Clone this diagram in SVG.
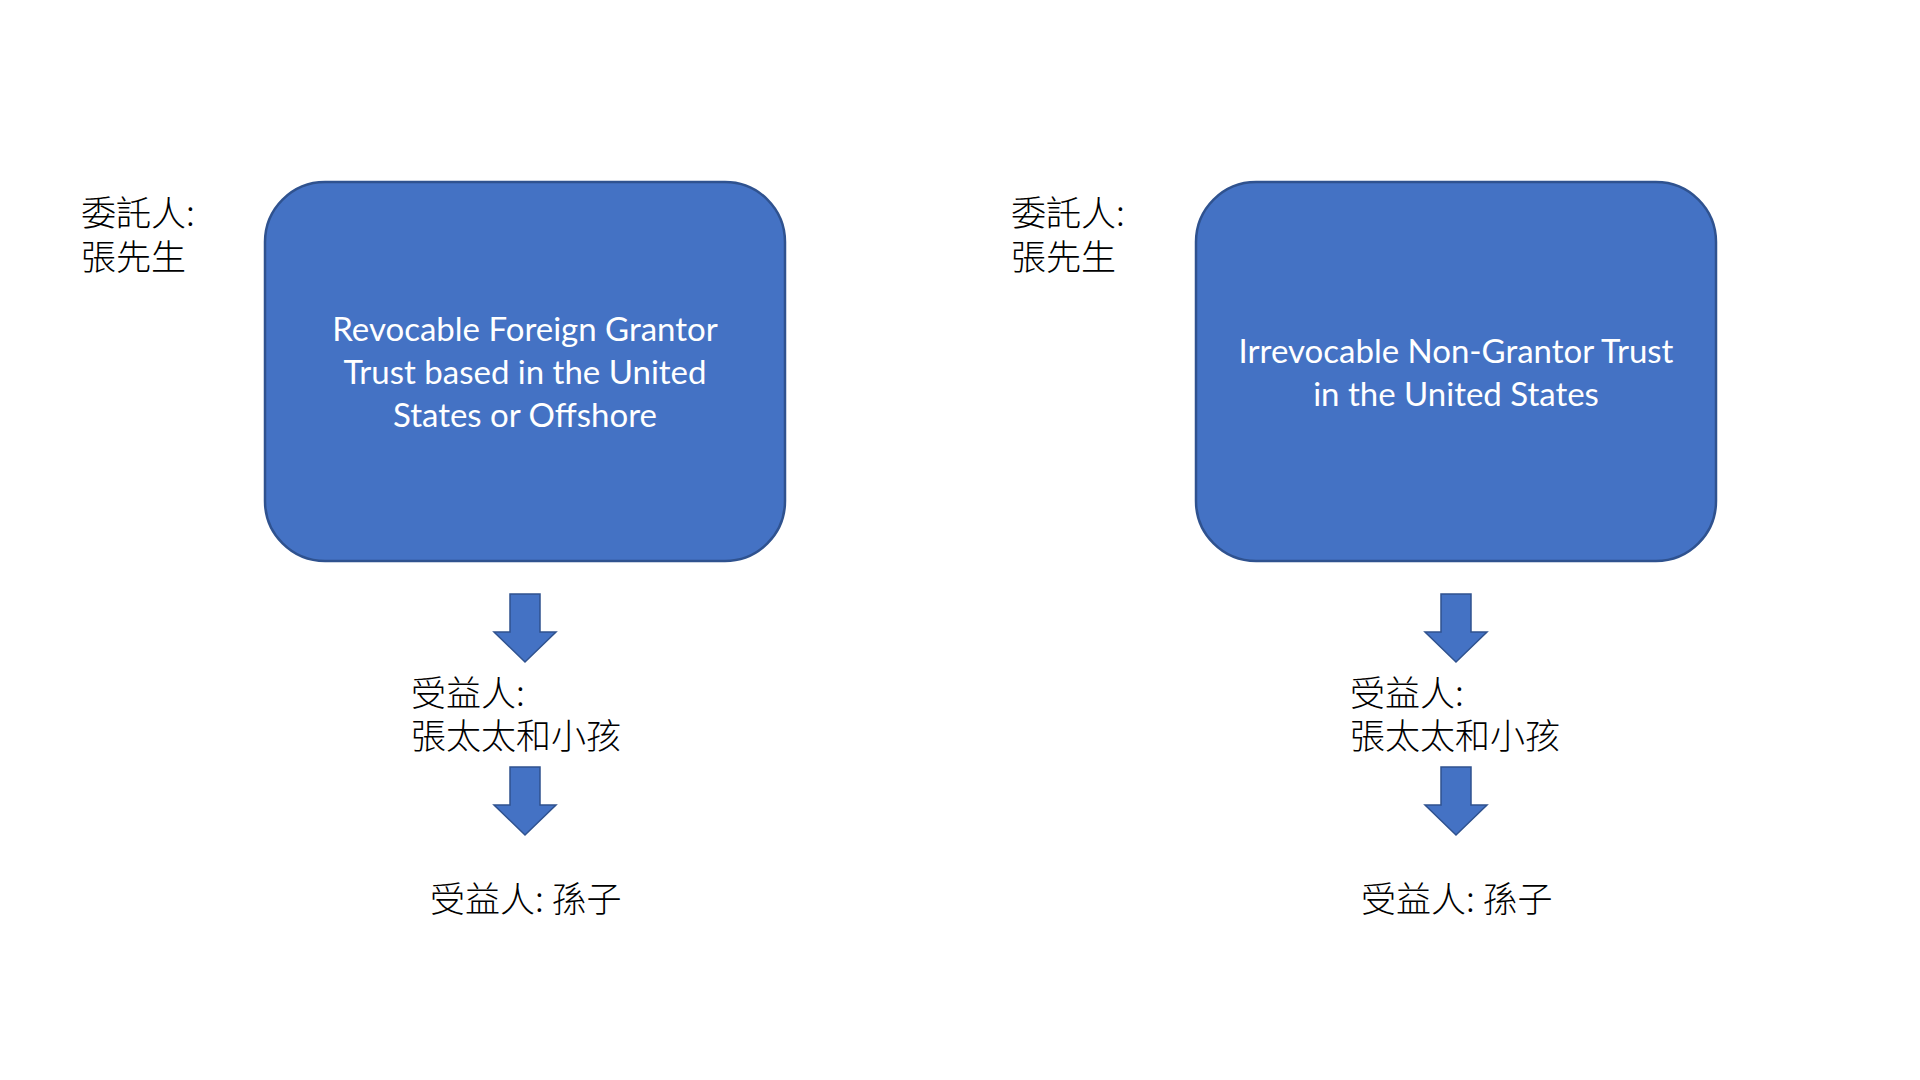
<svg xmlns="http://www.w3.org/2000/svg" width="1920" height="1080" viewBox="0 0 1920 1080">
<style>
.box{fill:#4472C4;stroke:#2F528F;stroke-width:2.5}
.arr{fill:#4472C4;stroke:#2F528F;stroke-width:1.5}
.bt{font-family:Lato,"Open Sans","Liberation Sans",sans-serif;font-size:33px;fill:#FFFFFF;text-anchor:middle}
.cj{font-family:"Noto Sans CJK TC","Noto Sans CJK SC",sans-serif;font-size:35px;fill:#000000;font-weight:300}
</style>
<rect width="1920" height="1080" fill="#FFFFFF"/>
<defs>
<polygon id="arrow" points="-15,0 15,0 15,38 31,38 0,68 -31,38 -15,38"/>
</defs>
<g id="left-grantor">
<text class="cj" x="81" y="226">委託人:</text>
<text class="cj" x="81" y="270">張先生</text>
</g>
<g id="left-trust">
<rect class="box" x="265" y="182" width="520" height="379" rx="60" ry="60"/>
<text class="bt" x="525" y="341">Revocable Foreign Grantor</text>
<text class="bt" x="525" y="384">Trust based in the United</text>
<text class="bt" x="525" y="427">States or Offshore</text>
</g>
<g id="left-beneficiary1">
<text class="cj" x="411" y="706">受益人:</text>
<text class="cj" x="411" y="749">張太太和小孩</text>
</g>
<g id="left-beneficiary2">
<text class="cj" x="430" y="912">受益人: 孫子</text>
</g>
<g id="right-grantor">
<text class="cj" x="1011" y="226">委託人:</text>
<text class="cj" x="1011" y="270">張先生</text>
</g>
<g id="right-trust">
<rect class="box" x="1196" y="182" width="520" height="379" rx="60" ry="60"/>
<text class="bt" x="1456" y="363">Irrevocable Non-Grantor Trust</text>
<text class="bt" x="1456" y="406">in the United States</text>
</g>
<g id="right-beneficiary1">
<text class="cj" x="1350" y="706">受益人:</text>
<text class="cj" x="1350" y="749">張太太和小孩</text>
</g>
<g id="right-beneficiary2">
<text class="cj" x="1361" y="912">受益人: 孫子</text>
</g>
<g id="connectors">
<use href="#arrow" class="arr" x="525" y="594"/>
<use href="#arrow" class="arr" x="525" y="767"/>
<use href="#arrow" class="arr" x="1456" y="594"/>
<use href="#arrow" class="arr" x="1456" y="767"/>
</g>
</svg>
